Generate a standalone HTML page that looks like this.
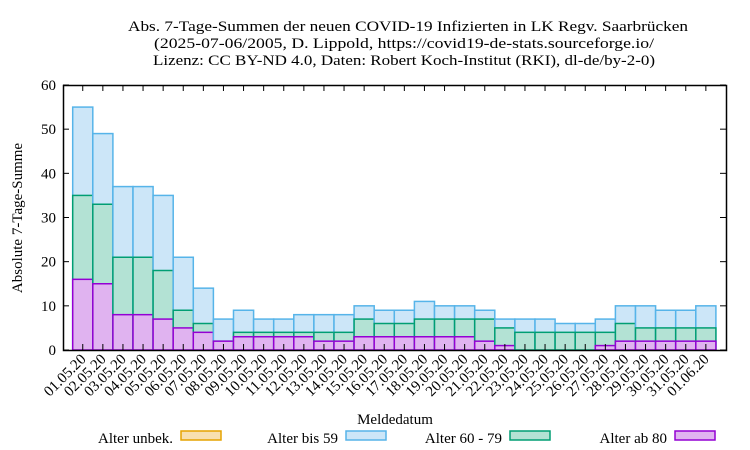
<!DOCTYPE html>
<html><head><meta charset="utf-8"><style>body{margin:0;background:#fff}svg{display:block}</style></head><body>
<svg id="s" width="750" height="450" xmlns="http://www.w3.org/2000/svg" font-family="Liberation Serif, serif" font-size="15">
<rect width="750" height="450" fill="#fff"/>
<g text-anchor="middle">
<text x="408" y="31" textLength="560" lengthAdjust="spacingAndGlyphs">Abs. 7-Tage-Summen der neuen COVID-19 Infizierten in LK Regv. Saarbrücken</text>
<text x="404" y="48" textLength="500" lengthAdjust="spacingAndGlyphs">(2025-07-06/2005, D. Lippold, https://covid19-de-stats.sourceforge.io/</text>
<text x="404" y="65" textLength="502" lengthAdjust="spacingAndGlyphs">Lizenz: CC BY-ND 4.0, Daten: Robert Koch-Institut (RKI), dl-de/by-2-0)</text>
</g>
<g id="bars"></g>
<rect x="63.5" y="85.5" width="663" height="265" fill="none" stroke="#000" stroke-width="1.5"/>
<g id="ax" font-size="15"></g>
<text transform="translate(22,218) rotate(-90)" text-anchor="middle">Absolute 7-Tage-Summe</text>
<text x="395" y="424" text-anchor="middle">Meldedatum</text>
<g font-size="15" text-anchor="end">
<text x="173" y="443">Alter unbek.</text><rect x="181" y="431" width="40" height="9" fill="#f8e0b0" stroke="#e6a300" stroke-width="1.5"/>
<text x="338" y="443">Alter bis 59</text><rect x="346" y="431" width="40" height="9" fill="#cce6f8" stroke="#56b4e9" stroke-width="1.5"/>
<text x="502" y="443">Alter 60 - 79</text><rect x="510" y="431" width="40" height="9" fill="#b3e2d4" stroke="#009e73" stroke-width="1.5"/>
<text x="667" y="443">Alter ab 80</text><rect x="675" y="431" width="40" height="9" fill="#e0b3f0" stroke="#9400d3" stroke-width="1.5"/>
</g>
</svg>
<script>
const T=[55,49,37,37,35,21,14,7,9,7,7,8,8,8,10,9,9,11,10,10,9,7,7,7,6,6,7,10,10,9,9,10];
const G=[35,33,21,21,18,9,6,2,4,4,4,4,4,4,7,6,6,7,7,7,7,5,4,4,4,4,4,6,5,5,5,5];
const P=[16,15,8,8,7,5,4,2,3,3,3,3,2,2,3,3,3,3,3,3,2,1,0,0,0,0,1,2,2,2,2,2];
const ns="http://www.w3.org/2000/svg";
const b=document.getElementById('bars'),ax=document.getElementById('ax');
const x0=72.7,w=20.1,y0=350,k=265/60;
function r(x,v,f,s){if(v<=0)return;const e=document.createElementNS(ns,'rect');e.setAttribute('x',x);e.setAttribute('y',y0-v*k);e.setAttribute('width',w);e.setAttribute('height',v*k);e.setAttribute('fill',f);e.setAttribute('stroke',s);e.setAttribute('stroke-width','1.5');b.appendChild(e);}
function el(t,a,p){const e=document.createElementNS(ns,t);for(const q in a)e.setAttribute(q,a[q]);(p||ax).appendChild(e);return e;}
for(let i=0;i<32;i++){const x=x0+i*w;r(x,T[i],'#cce6f8','#56b4e9');r(x,G[i],'#b3e2d4','#009e73');r(x,P[i],'#e0b3f0','#9400d3');
const c=x+w/2;el('line',{x1:c,x2:c,y1:85,y2:91,stroke:'#000'});el('line',{x1:c,x2:c,y1:350,y2:344,stroke:'#000'});
const d=i<31?String(i+1).padStart(2,'0')+'.05.20':'01.06.20';
const t=el('text',{transform:`translate(${c+4},${360}) rotate(-45)`,'text-anchor':'end'});t.textContent=d;}
for(let v=0;v<=60;v+=10){const y=y0-v*k;el('line',{x1:63,x2:69,y1:y,y2:y,stroke:'#000'});el('line',{x1:726,x2:720,y1:y,y2:y,stroke:'#000'});
const t=el('text',{x:56,y:y+5,'text-anchor':'end'});t.textContent=v;}
</script>
</body></html>
